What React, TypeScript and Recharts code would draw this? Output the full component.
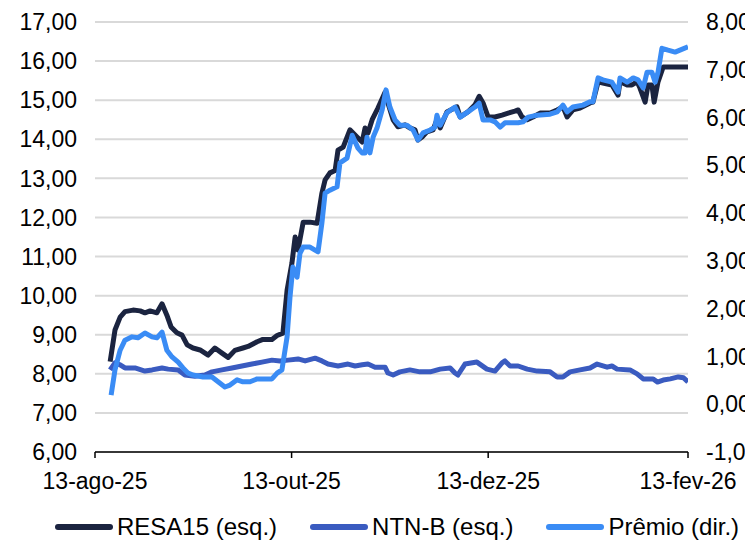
import { LineChart, Line, XAxis, YAxis, CartesianGrid } from 'recharts';

// days counted from 13-ago-25
const xTickDays = [0, 61, 122, 184];
const xTickLabels = ['13-ago-25', '13-out-25', '13-dez-25', '13-fev-26'];
const leftTicks = [6, 7, 8, 9, 10, 11, 12, 13, 14, 15, 16, 17];
const rightTicks = [-1, 0, 1, 2, 3, 4, 5, 6, 7, 8];

const resaDays = [
  4.7, 6.2, 7.8, 9.3, 11.8, 14.0, 15.5, 17.1, 19.2, 20.8, 22.3, 23.6, 25.4, 27.0, 28.6, 30.4,
  32.6, 35.1, 37.2, 39.4, 41.3, 43.4, 45.9, 47.5, 50.3, 52.1, 54.9, 56.5, 58.3, 59.6, 61.1,
  62.1, 63.0, 64.6, 66.7, 68.9, 70.4, 71.4, 72.9, 74.5, 75.4, 77.0, 79.1, 81.3, 82.9, 83.8,
  84.7, 86.0, 87.8, 90.0, 90.9, 92.5, 94.0, 96.2, 97.7, 99.3, 100.2, 101.5, 103.0, 104.9,
  106.1, 107.1, 109.2, 112.3, 113.3, 115.7, 117.9, 119.2, 120.4, 122.0, 124.1, 126.3, 128.2,
  130.3, 131.3, 132.5, 134.1, 135.9, 138.1, 141.2, 143.4, 145.2, 146.5, 148.3, 150.5, 153.6,
  154.5, 156.1, 157.6, 160.4, 162.3, 162.9, 165.1, 166.6, 168.2, 169.1, 170.7, 171.6, 172.8,
  173.5, 174.7, 176.3, 180.0, 184.0,
];
const resaValues = [
  8.31, 9.12, 9.45, 9.59, 9.63, 9.61, 9.56, 9.61, 9.56, 9.79, 9.5, 9.2, 9.05, 8.99, 8.74, 8.66,
  8.61, 8.48, 8.66, 8.53, 8.42, 8.6, 8.66, 8.7, 8.82, 8.88, 8.88, 8.98, 9.04, 10.14, 10.83,
  11.5, 11.17, 11.88, 11.88, 11.85, 12.62, 12.96, 13.14, 13.2, 13.72, 13.8, 14.24, 14.06, 13.93,
  14.29, 14.16, 14.5, 14.8, 15.2, 14.93, 14.5, 14.32, 14.37, 14.29, 14.24, 13.98, 14.06, 14.19,
  14.24, 14.5, 14.29, 14.7, 14.83, 14.57, 14.7, 14.88, 15.1, 14.93, 14.57, 14.57, 14.62, 14.67,
  14.72, 14.75, 14.57, 14.5, 14.57, 14.67, 14.67, 14.75, 14.83, 14.57, 14.75, 14.8, 14.93,
  14.95, 15.47, 15.44, 15.39, 15.13, 15.47, 15.39, 15.39, 15.47, 15.31, 14.95, 15.39, 15.39,
  14.95, 15.47, 15.85, 15.85, 15.85,
];

const ntnbDays = [
  4.7, 6.2, 7.8, 9.3, 12.4, 15.5, 17.7, 20.8, 22.7, 25.8, 27.9, 31.0, 34.1, 36.3, 39.4, 42.5,
  45.6, 48.7, 51.8, 54.9, 57.4, 59.9, 63.0, 65.2, 68.3, 70.4, 72.3, 75.4, 78.5, 80.7, 82.9,
  84.7, 86.9, 90.0, 90.9, 92.5, 94.6, 97.7, 100.8, 104.0, 107.1, 110.2, 111.7, 112.6, 114.8,
  118.5, 121.6, 124.1, 126.3, 127.2, 128.8, 131.3, 134.1, 137.2, 141.2, 143.4, 145.2, 147.4,
  150.5, 153.6, 155.8, 158.9, 160.4, 162.0, 166.0, 168.2, 170.1, 173.2, 174.5, 176.3, 178.5,
  181.0, 182.6, 184.0,
];
const ntnbValues = [
  8.1, 8.28, 8.23, 8.15, 8.15, 8.07, 8.1, 8.15, 8.12, 8.1, 7.97, 7.94, 7.97, 8.05, 8.1, 8.15,
  8.2, 8.25, 8.3, 8.35, 8.33, 8.35, 8.38, 8.33, 8.4, 8.33, 8.25, 8.2, 8.25, 8.2, 8.23, 8.25,
  8.17, 8.17, 8.02, 7.97, 8.05, 8.1, 8.05, 8.05, 8.12, 8.15, 8.02, 7.97, 8.25, 8.3, 8.12, 8.07,
  8.28, 8.33, 8.2, 8.2, 8.12, 8.07, 8.05, 7.92, 7.92, 8.05, 8.1, 8.15, 8.25, 8.17, 8.2, 8.12,
  8.1, 8.0, 7.87, 7.87, 7.79, 7.84, 7.87, 7.92, 7.9, 7.79,
];

const premioDays = [
  5.0, 6.2, 7.8, 9.3, 11.5, 13.3, 15.5, 17.7, 19.2, 20.8, 22.3, 23.9, 25.8, 27.3, 28.9, 30.4,
  33.5, 36.3, 38.2, 40.3, 41.9, 44.1, 45.9, 48.1, 50.3, 52.1, 54.9, 56.5, 58.0, 59.6, 60.5,
  61.4, 62.7, 63.6, 64.6, 66.7, 69.2, 70.4, 71.4, 72.9, 75.1, 76.0, 78.2, 79.8, 81.6, 82.9,
  83.8, 84.4, 85.3, 86.3, 87.5, 89.1, 90.3, 91.5, 93.1, 94.6, 96.8, 98.7, 100.2, 101.8, 104.0,
  105.5, 106.1, 107.1, 109.2, 111.7, 113.3, 115.7, 117.9, 119.2, 120.4, 122.6, 124.1, 125.7,
  127.2, 129.4, 131.3, 132.8, 134.4, 137.2, 141.2, 143.4, 145.2, 146.5, 148.3, 151.4, 153.6,
  154.5, 156.1, 157.6, 160.4, 162.3, 162.9, 165.1, 167.0, 168.5, 170.1, 171.3, 172.8, 173.8,
  174.7, 175.9, 177.8, 180.0, 181.5, 184.0,
];
const premioValues = [
  0.19, 0.72, 1.13, 1.34, 1.41, 1.39, 1.49, 1.41, 1.39, 1.51, 1.13, 0.99, 0.88, 0.76, 0.65, 0.61,
  0.57, 0.57, 0.47, 0.36, 0.4, 0.51, 0.47, 0.47, 0.53, 0.53, 0.53, 0.65, 0.72, 1.41, 2.24, 2.87,
  2.66, 3.16, 3.29, 3.29, 3.19, 3.79, 4.42, 4.48, 4.55, 5.05, 5.15, 5.63, 5.36, 5.26, 5.26, 5.59,
  5.26, 5.59, 5.78, 6.16, 6.58, 6.22, 5.95, 5.84, 5.84, 5.74, 5.53, 5.68, 5.74, 5.8, 6.05, 5.84,
  6.1, 6.22, 6.01, 6.12, 6.22, 6.3, 5.95, 5.95, 5.91, 5.8, 5.89, 5.89, 5.89, 5.91, 6.01, 6.05,
  6.07, 6.12, 6.26, 6.12, 6.22, 6.26, 6.33, 6.33, 6.83, 6.79, 6.74, 6.53, 6.83, 6.74, 6.83, 6.79,
  6.62, 6.95, 6.95, 6.74, 6.95, 7.45, 7.41, 7.37, 7.41, 7.48,
];

const toPoints = (days: number[], values: number[]) =>
  days.map((day, i) => ({ day, value: values[i] }));

const resaData = toPoints(resaDays, resaValues);
const ntnbData = toPoints(ntnbDays, ntnbValues);
const premioData = toPoints(premioDays, premioValues);

const COLORS = { resa: '#1b2440', ntnb: '#3a5bc0', premio: '#3a8cf5' };
const FONT = '"Liberation Sans", Arial, sans-serif';
const tickStyle = { fontSize: 23, fill: '#000', fontFamily: FONT };

const fmt = (v: number) => v.toFixed(2).replace('.', ',');

const legendItems = [
  { label: 'RESA15 (esq.)', color: COLORS.resa },
  { label: 'NTN-B (esq.)', color: COLORS.ntnb },
  { label: 'Prêmio (dir.)', color: COLORS.premio },
];

const ChartLegend = () => (
  <div
    style={{
      position: 'absolute', top: 513, left: 55, display: 'flex', gap: 33,
      fontFamily: FONT, fontSize: 24, color: '#000', alignItems: 'center', whiteSpace: 'nowrap',
    }}
  >
    {legendItems.map(item => (
      <div key={item.label} style={{ display: 'flex', alignItems: 'center' }}>
        <span style={{ width: 58, height: 6, borderRadius: 3, background: item.color, marginRight: 4 }} />
        <span>{item.label}</span>
      </div>
    ))}
  </div>
);

const App = () => (
  <div style={{ position: 'absolute', left: 0, top: 0, width: 745, height: 554, background: '#fff', overflow: 'hidden' }}>
    <LineChart width={745} height={554} margin={{ top: 22, right: 0, bottom: 52, left: 0 }}>
      <CartesianGrid horizontal vertical={false} stroke="#d9d9d9" strokeWidth={2} yAxisId="left" />
      <XAxis
        type="number"
        dataKey="day"
        domain={[0, 184]}
        ticks={xTickDays}
        tickFormatter={(d: number) => xTickLabels[xTickDays.indexOf(d)]}
        height={50}
        tick={tickStyle}
        tickMargin={15}
        stroke="#000"
        strokeWidth={1.5}
        allowDataOverflow
      />
      <YAxis
        yAxisId="left"
        domain={[6, 17]}
        ticks={leftTicks}
        interval={0}
        tickFormatter={fmt}
        width={95}
        tick={tickStyle}
        tickMargin={12}
        axisLine={false}
        tickLine={false}
      />
      <YAxis
        yAxisId="right"
        orientation="right"
        domain={[-1, 8]}
        ticks={rightTicks}
        interval={0}
        tickFormatter={fmt}
        width={57}
        tick={{ ...tickStyle, textAnchor: 'start' }}
        tickMargin={12}
        axisLine={false}
        tickLine={false}
      />
      <Line yAxisId="left" data={resaData} dataKey="value" name="RESA15 (esq.)" stroke={COLORS.resa}
        strokeWidth={5} dot={false} type="linear" isAnimationActive={false} strokeLinejoin="round" />
      <Line yAxisId="left" data={ntnbData} dataKey="value" name="NTN-B (esq.)" stroke={COLORS.ntnb}
        strokeWidth={5} dot={false} type="linear" isAnimationActive={false} strokeLinejoin="round" />
      <Line yAxisId="right" data={premioData} dataKey="value" name="Prêmio (dir.)" stroke={COLORS.premio}
        strokeWidth={5} dot={false} type="linear" isAnimationActive={false} strokeLinejoin="round" />
    </LineChart>
    <ChartLegend />
  </div>
);

export default App;
